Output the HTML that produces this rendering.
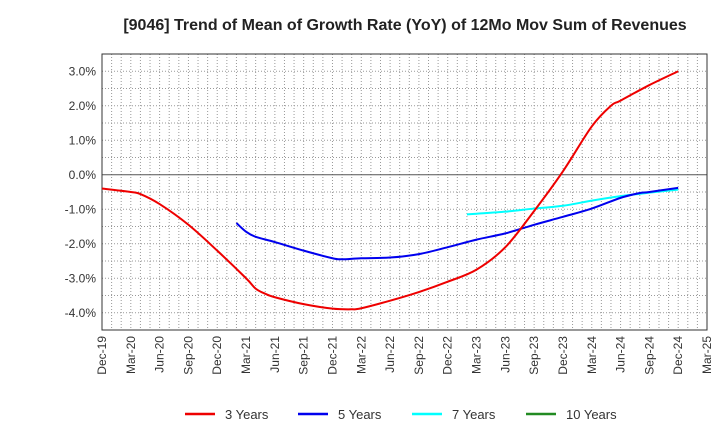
<!DOCTYPE html>
<html><head><meta charset="utf-8"><style>
body{margin:0;background:#fff;font-family:"Liberation Sans",sans-serif}
</style></head><body>
<svg id="c" width="720" height="440" xmlns="http://www.w3.org/2000/svg" font-family="Liberation Sans, sans-serif">
<text x="405" y="30" text-anchor="middle" font-size="16" font-weight="bold" fill="#222">[9046]  Trend of Mean of Growth Rate (YoY) of 12Mo Mov Sum of Revenues</text>
</svg>
<script>
const xLabels=["Dec-19","Mar-20","Jun-20","Sep-20","Dec-20","Mar-21","Jun-21","Sep-21","Dec-21","Mar-22","Jun-22","Sep-22","Dec-22","Mar-23","Jun-23","Sep-23","Dec-23","Mar-24","Jun-24","Sep-24","Dec-24","Mar-25"];
const yTicks=[3,2,1,0,-1,-2,-3,-4];
const m3=[0,3,4,6,9,12,15,16,17,18,21,24,26,27,30,33,36,39,42,45,48,51,53,54,57,60];
const v3=[-0.4,-0.5,-0.56,-0.85,-1.45,-2.2,-3.0,-3.3,-3.45,-3.55,-3.75,-3.88,-3.9,-3.87,-3.65,-3.4,-3.1,-2.75,-2.1,-1.05,0.1,1.4,2.0,2.15,2.6,3.0];
const m5=[14,15,16,18,21,24,25,27,30,33,36,39,42,45,48,51,54,56,57,60];
const v5=[-1.4,-1.65,-1.8,-1.95,-2.2,-2.42,-2.45,-2.42,-2.4,-2.3,-2.1,-1.88,-1.7,-1.45,-1.22,-0.98,-0.67,-0.53,-0.5,-0.38];
const m7=[38,39,42,45,48,51,54,57,60];
const v7=[-1.15,-1.13,-1.07,-0.98,-0.9,-0.75,-0.62,-0.52,-0.43];
const L=102,R=707,T=54,B=330,yMin=-4.5,yMax=3.5,months=63;
const X=m=>L+(R-L)*m/months;
const Y=v=>B-(B-T)*(v-yMin)/(yMax-yMin);
const svg=document.getElementById('c');const NS="http://www.w3.org/2000/svg";
function mk(t,a,p){const e=document.createElementNS(NS,t);for(const k in a)e.setAttribute(k,a[k]);(p||svg).appendChild(e);return e;}
const g=mk('g',{});


for(let m=1;m<months;m++){mk('line',{x1:X(m),x2:X(m),y1:T,y2:B,stroke:'#999','stroke-dasharray':'1,2','stroke-width':1},g);}
for(let v=yMin+0.5;v<yMax;v+=0.5){if(Math.abs(v)<1e-9)continue;mk('line',{x1:L,x2:R,y1:Y(v),y2:Y(v),stroke:'#999','stroke-dasharray':'1,2','stroke-width':1},g);}
const z=mk('line',{x1:L,x2:R,y1:Y(0),y2:Y(0),stroke:'#555','stroke-width':1});


const fr=mk('rect',{x:L,y:T,width:R-L,height:B-T,fill:'none',stroke:'#333','stroke-width':1});


yTicks.forEach(v=>{const t=mk('text',{x:L-6,y:Y(v)+4,'text-anchor':'end','font-size':12,fill:'#333'});t.textContent=v.toFixed(1)+'%';

});
xLabels.forEach((s,i)=>{const x=X(i*3)+4;const t=mk('text',{x:x,y:336,transform:`rotate(-90 ${x} 336)`,'text-anchor':'end','font-size':12,fill:'#333'});t.textContent=s;

});
function path(ms,vs){const p=ms.map((m,i)=>[X(m),Y(vs[i])]);let d=`M${p[0][0]},${p[0][1]}`;for(let i=0;i<p.length-1;i++){const p0=p[Math.max(0,i-1)],p1=p[i],p2=p[i+1],p3=p[Math.min(p.length-1,i+2)];const c1=[p1[0]+(p2[0]-p0[0])/6,p1[1]+(p2[1]-p0[1])/6],c2=[p2[0]-(p3[0]-p1[0])/6,p2[1]-(p3[1]-p1[1])/6];d+=`C${c1[0]},${c1[1]} ${c2[0]},${c2[1]} ${p2[0]},${p2[1]}`;}return d;}
[[m7,v7,'#00ffff','series-7-years'],[m5,v5,'#0000ee','series-5-years'],[m3,v3,'#ee0000','series-3-years']].forEach(([m,v,c,n])=>{const e=mk('path',{d:path(m,v),fill:'none',stroke:c,'stroke-width':2});

});
const leg=[['3 Years','#ee0000',185],['5 Years','#0000ee',298],['7 Years','#00ffff',412],['10 Years','#228b22',526]];
leg.forEach(([s,c,x])=>{const gg=mk('g',{});


mk('line',{x1:x,x2:x+30,y1:414,y2:414,stroke:c,'stroke-width':2.5},gg);const t=mk('text',{x:x+40,y:419,'font-size':13,fill:'#333'},gg);t.textContent=s;});
</script>
</body></html>
